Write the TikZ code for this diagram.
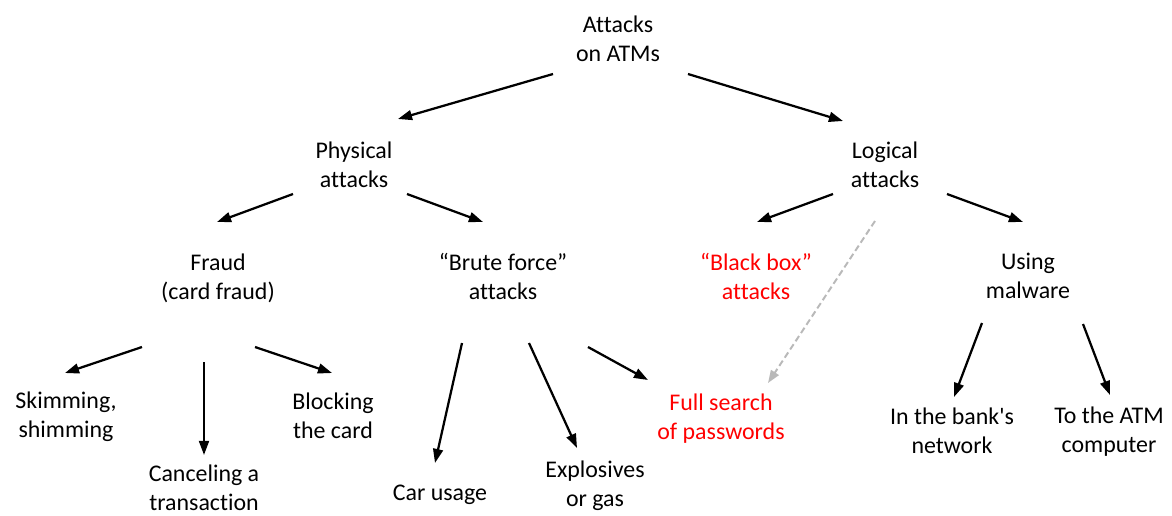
\documentclass[tikz,border=0pt]{standalone}
\usepackage{fontspec}
\setmainfont{Carlito}[Ligatures={TeX,NoCommon}]
\usepackage{xcolor}
\usepackage{tikz}
\usetikzlibrary{arrows.meta}

\definecolor{hintgray}{RGB}{185,185,185}

\begin{document}
\begin{tikzpicture}[x=0.025cm, y=-0.025cm, >={Triangle[length=10pt,width=7pt]},
    item/.style={align=center, inner sep=0pt, font=\fontsize{17}{20.6}\selectfont},
    hot/.style={item, text=red},
    arr/.style={->, line width=1.6pt},
    hint/.style={-{Triangle[length=9pt,width=6.5pt]}, hintgray, line width=1.4pt,
        dash pattern=on 4.5pt off 2.5pt}]
    \useasboundingbox (0,0) rectangle (1172,515);

    % Root and the two main branches
    \node[item] (top)   at (618,39)  {Attacks\\on ATMs};
    \node[item] (phys)  at (354,165) {Physical\\attacks};
    \node[item] (logic) at (885,165) {Logical\\attacks};

    % Second level
    \node[item] (fraud) at (218,278)  {Fraud\\(card fraud)};
    \node[item] (brute) at (503,276)  {“Brute force”\\attacks};
    \node[hot]  (bbox)  at (756,276)  {“Black box”\\attacks};
    \node[item] (malw)  at (1028,276) {Using\\malware};

    % Leaves
    \node[item] (skim)   at (66,417)   {Skimming,\\shimming};
    \node[item] (cancel) at (204,488)  {Canceling a\\transaction};
    \node[item] (block)  at (333,416)  {Blocking\\the card};
    \node[item] (car)    at (440,495)  {Car usage};
    \node[item] (expl)   at (595,486)  {Explosives\\or gas};
    \node[hot]  (full)   at (721,419)  {Full search\\of passwords};
    \node[item] (bank)   at (952,431)  {In the bank\textquotesingle s\\network};
    \node[item] (atmpc)  at (1109,432) {To the ATM\\computer};

    % Arrows (offsets from node centres)
    \draw[arr] ([shift={(-65,35)}]top.center)   -- ([shift={(44,-46)}]phys.center);
    \draw[arr] ([shift={(70,35)}]top.center)    -- ([shift={(-42,-44)}]logic.center);

    \draw[arr] ([shift={(-61,29)}]phys.center)  -- ([shift={(-1,-56)}]fraud.center);
    \draw[arr] ([shift={(53,29)}]phys.center)   -- ([shift={(-20,-54)}]brute.center);
    \draw[arr] ([shift={(-52,29)}]logic.center) -- ([shift={(1,-54)}]bbox.center);
    \draw[arr] ([shift={(62,29)}]logic.center)  -- ([shift={(-5,-54)}]malw.center);
    \draw[hint] ([shift={(-10,56)}]logic.center) -- ([shift={(47,-36)}]full.center);

    \draw[arr] ([shift={(-76,69)}]fraud.center) -- ([shift={(-1,-44)}]skim.center);
    \draw[arr] ([shift={(-14,84)}]fraud.center) -- ([shift={(0,-33)}]cancel.center);
    \draw[arr] ([shift={(37,69)}]fraud.center)  -- ([shift={(-1,-43)}]block.center);

    \draw[arr] ([shift={(-41,67)}]brute.center) -- ([shift={(-5,-32)}]car.center);
    \draw[arr] ([shift={(26,67)}]brute.center)  -- ([shift={(-18,-38)}]expl.center);
    \draw[arr] ([shift={(85,71)}]brute.center)  -- ([shift={(-73,-39)}]full.center);

    \draw[arr] ([shift={(-46,47)}]malw.center)  -- ([shift={(2,-34)}]bank.center);
    \draw[arr] ([shift={(55,48)}]malw.center)   -- ([shift={(1,-37)}]atmpc.center);
\end{tikzpicture}
\end{document}
